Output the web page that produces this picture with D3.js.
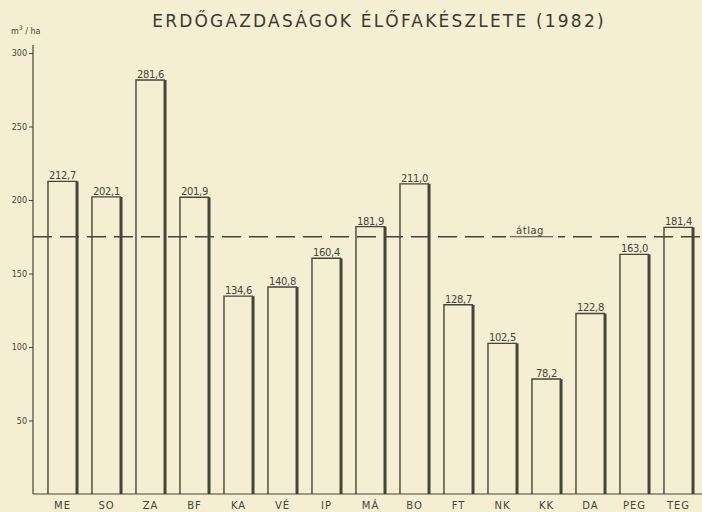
<!DOCTYPE html>
<html>
<head>
<meta charset="utf-8">
<script src="https://cdn.jsdelivr.net/npm/d3@7"></script>
<style>
  body { margin: 0; background: #f4efd3; }
  svg { display: block; }
  text { font-family: 'DejaVu Sans', sans-serif; fill: #45453a; }
</style>
</head>
<body>
<div id="chart"></div>
<script>
// erdőgazdaságok élőfakészlete, m3/ha
const categories = ['ME', 'SO', 'ZA', 'BF', 'KA', 'VÉ', 'IP', 'MÁ', 'BO', 'FT', 'NK', 'KK', 'DA', 'PEG', 'TEG']
const values = [212.7, 202.1, 281.6, 201.9, 134.6, 140.8, 160.4, 181.9, 211.0, 128.7, 102.5, 78.2, 122.8, 163.0, 181.4]
const average = 175
const yTicks = [50, 100, 150, 200, 250, 300]

const width = 702
const height = 512
const ink = '#45453a'

const svg = d3
  .select('#chart')
  .append('svg')
  .attr('width', width)
  .attr('height', height)

svg.append('rect')
  .attr('width', width)
  .attr('height', height)
  .attr('fill', '#f4efd3')

const xPositionScale = d3
  .scaleBand()
  .domain(categories)
  .range([40.5, 700.5])
  .paddingInner(0.34)
  .paddingOuter(0.17)

const yPositionScale = d3
  .scaleLinear()
  .domain([0, 300])
  .range([494, 53])

// title
svg.append('text')
  .attr('x', 379)
  .attr('y', 27)
  .attr('text-anchor', 'middle')
  .attr('font-size', 17)
  .attr('letter-spacing', 2.2)
  .style('fill', '#3a3a30')
  .text('ERDŐGAZDASÁGOK  ÉLŐFAKÉSZLETE (1982)')

// unit
const unit = svg.append('text')
  .attr('x', 11)
  .attr('y', 34)
  .attr('font-size', 8)
unit.append('tspan').text('m')
unit.append('tspan').attr('dy', -4).attr('font-size', 6).text('3')
unit.append('tspan').attr('dy', 4).text(' / ha')

// y axis
const yAxis = d3.axisLeft(yPositionScale)
  .tickValues(yTicks)
  .tickSize(4)
  .tickPadding(2)
  .tickFormat(d3.format('d'))

const yAxisG = svg.append('g')
  .attr('transform', 'translate(33,0)')
  .call(yAxis)
yAxisG.select('.domain').remove()
yAxisG.selectAll('line').attr('stroke', ink)
yAxisG.selectAll('text')
  .attr('font-size', 8)
  .style('fill', ink)

svg.append('line')
  .attr('x1', 33).attr('x2', 33)
  .attr('y1', 45).attr('y2', yPositionScale(0))
  .attr('stroke', ink)
  .attr('stroke-width', 1.2)

// baseline
svg.append('line')
  .attr('x1', 33).attr('x2', width)
  .attr('y1', yPositionScale(0)).attr('y2', yPositionScale(0))
  .attr('stroke', ink)
  .attr('stroke-width', 1.2)

// bars: thin left/top, heavy right side
const data = categories.map((c, i) => ({ cat: c, value: values[i] }))

const bars = svg.selectAll('.bar')
  .data(data)
  .enter()
  .append('g')
  .attr('class', 'bar')

bars.append('path')
  .attr('fill', 'none')
  .attr('stroke', ink)
  .attr('stroke-width', 1.4)
  .attr('d', d => {
    const x0 = xPositionScale(d.cat)
    const x1 = x0 + xPositionScale.bandwidth()
    const y0 = yPositionScale(0)
    const y1 = yPositionScale(d.value)
    return `M${x0},${y0}V${y1}H${x1}`
  })

bars.append('line')
  .attr('x1', d => xPositionScale(d.cat) + xPositionScale.bandwidth())
  .attr('x2', d => xPositionScale(d.cat) + xPositionScale.bandwidth())
  .attr('y1', d => yPositionScale(d.value))
  .attr('y2', yPositionScale(0))
  .attr('stroke', ink)
  .attr('stroke-width', 3)

bars.append('text')
  .attr('x', d => xPositionScale(d.cat) + xPositionScale.bandwidth() / 2)
  .attr('y', d => yPositionScale(d.value) - 2)
  .attr('text-anchor', 'middle')
  .attr('font-size', 10)
  .attr('letter-spacing', -0.3)
  .text(d => d.value.toFixed(1).replace('.', ','))

// category labels
svg.selectAll('.cat-label')
  .data(categories)
  .enter()
  .append('text')
  .attr('class', 'cat-label')
  .attr('x', d => xPositionScale(d) + xPositionScale.bandwidth() / 2)
  .attr('y', 509)
  .attr('text-anchor', 'middle')
  .attr('font-size', 10)
  .attr('letter-spacing', 1)
  .text(d => d)

// average line
svg.append('line')
  .attr('x1', 33).attr('x2', width)
  .attr('y1', yPositionScale(average)).attr('y2', yPositionScale(average))
  .attr('stroke', ink)
  .attr('stroke-width', 1.4)
  .attr('stroke-dasharray', '19,8')

svg.append('rect')
  .attr('x', 506).attr('y', yPositionScale(average) - 3)
  .attr('width', 52).attr('height', 6)
  .attr('fill', '#f4efd3')

svg.append('text')
  .attr('x', 530)
  .attr('y', yPositionScale(average) - 3)
  .attr('text-anchor', 'middle')
  .attr('font-size', 10)
  .attr('letter-spacing', 0.5)
  .text('átlag')

svg.append('line')
  .attr('x1', 510).attr('x2', 553)
  .attr('y1', yPositionScale(average)).attr('y2', yPositionScale(average))
  .attr('stroke', ink)
  .attr('stroke-width', 1.2)
</script>
</body>
</html>
